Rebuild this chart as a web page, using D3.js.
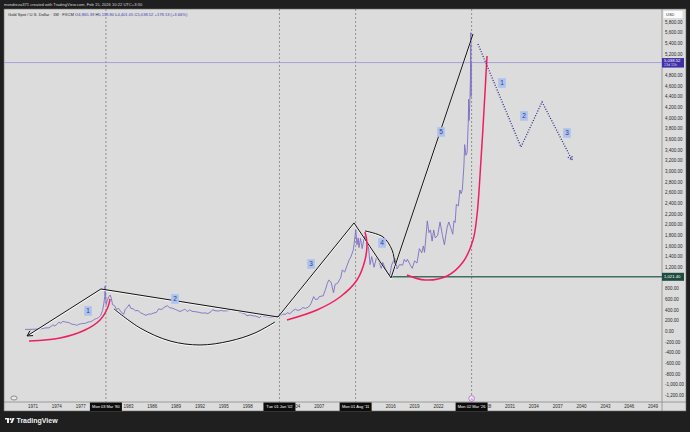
<!DOCTYPE html>
<html>
<head>
<meta charset="utf-8">
<script src="https://cdn.jsdelivr.net/npm/d3@7"></script>
<style>
  body { margin: 0; background: #1f1f1f; }
  svg { display: block; font-family: "Liberation Sans", Arial, sans-serif; }
</style>
</head>
<body>
<svg id="chart" width="690" height="432"></svg>
<script>
// gold monthly closes, decimal year / price (USD)
var goldYears = [1970.0,1970.5,1971.0,1971.5,1972.0,1972.5,1973.0,1973.25,1973.5,1973.75,1974.0,1974.25,1974.5,1974.75,1975.0,1975.25,1975.5,1975.75,1976.0,1976.25,1976.5,1976.75,1977.0,1977.25,1977.5,1977.75,1978.0,1978.25,1978.5,1978.75,1979.0,1979.25,1979.5,1979.75,1979.9,1980.02,1980.06,1980.2,1980.3,1980.5,1980.7,1980.85,1981.0,1981.25,1981.5,1981.75,1982.0,1982.4,1982.6,1982.8,1983.1,1983.3,1983.6,1983.9,1984.2,1984.5,1984.9,1985.2,1985.5,1985.9,1986.2,1986.5,1986.8,1987.2,1987.5,1987.9,1988.2,1988.5,1988.9,1989.2,1989.5,1989.9,1990.1,1990.4,1990.7,1991.0,1991.5,1991.9,1992.3,1992.7,1993.0,1993.4,1993.6,1993.9,1994.3,1994.7,1995.0,1995.5,1996.0,1996.3,1996.7,1997.0,1997.4,1997.7,1997.9,1998.3,1998.7,1999.0,1999.5,1999.75,2000.0,2000.4,2000.8,2001.2,2001.5,2001.8,2002.0,2002.4,2002.8,2003.0,2003.3,2003.7,2004.0,2004.3,2004.7,2004.9,2005.3,2005.7,2005.95,2006.3,2006.5,2006.8,2007.0,2007.5,2007.8,2008.0,2008.2,2008.5,2008.8,2009.0,2009.3,2009.7,2009.9,2010.2,2010.5,2010.8,2011.0,2011.3,2011.6,2011.75,2011.9,2012.0,2012.2,2012.4,2012.7,2012.95,2013.2,2013.4,2013.6,2013.9,2014.2,2014.5,2014.8,2015.0,2015.3,2015.6,2015.9,2016.1,2016.5,2016.8,2017.1,2017.5,2017.7,2017.95,2018.1,2018.5,2018.7,2019.0,2019.3,2019.6,2019.9,2020.1,2020.25,2020.4,2020.6,2020.8,2021.0,2021.2,2021.4,2021.6,2021.9,2022.2,2022.5,2022.75,2022.95,2023.1,2023.3,2023.6,2023.8,2023.95,2024.1,2024.25,2024.5,2024.7,2024.85,2025.0,2025.2,2025.3,2025.45,2025.6,2025.75,2025.8,2025.85,2025.95,2026.02,2026.07,2026.1,2026.13]
var goldClose = [35,36,38,41,46,62,65,90,120,100,130,170,150,185,178,167,165,142,130,128,110,130,140,147,145,162,175,180,200,225,240,255,295,390,512,650,850,500,560,640,680,620,500,480,410,430,380,315,410,440,500,430,420,385,390,350,320,300,320,325,345,350,420,410,450,480,440,435,410,390,370,400,415,370,400,375,365,355,340,345,330,370,405,385,380,390,380,385,405,395,380,355,340,325,290,305,290,287,255,300,285,275,265,260,265,280,280,320,320,350,330,385,415,390,410,445,430,460,515,650,600,600,650,665,790,890,960,920,720,880,900,1000,1150,1110,1230,1350,1400,1530,1900,1620,1750,1570,1740,1550,1780,1660,1580,1250,1400,1200,1380,1320,1180,1290,1180,1090,1060,1240,1370,1170,1250,1240,1350,1300,1350,1230,1180,1320,1280,1550,1470,1600,1480,1730,2070,1850,1900,1690,1900,1750,1800,2050,1800,1620,1820,1950,2050,1920,1820,2070,2040,2380,2350,2650,2580,2650,3100,3500,3300,3350,3900,4350,3950,4300,4700,5600,4400,5038.52]

// drawings, [year, price]
var waveLine = [[1970.25,-88],[1979.55,793],[2001.82,268],[2011.38,2031],[2016.03,1000],[2026.35,5574]]
var forecastLine = [[2026.97,5387],[2032.38,3456],[2035.03,4300],[2038.8,3212]]
var redArc1 = [[1970.5,-182],[1974.4,-126],[1977.54,24],[1979.43,212],[1980.43,456],[1980.69,606]]
var redArc2 = [[2002.95,212],[2006.72,399],[2009.62,643],[2011.75,962],[2012.76,1337],[2013.01,1656],[2012.76,1862]]
var redArc3 = [[2018.04,1056],[2020.31,962],[2023.08,1037],[2025.09,1299],[2026.35,1712],[2026.85,2181],[2027.35,3212],[2027.73,4149],[2028.11,5162]]
var blackArcU = [[1981.19,418],[1984.46,62],[1988.23,-182],[1992.01,-257],[1995.78,-182],[1998.92,-32],[2001.44,174]]
var blackArc4 = [[2012.76,1881],[2015.03,1768],[2016.16,1524],[2016.53,1281],[2016.66,1224]]
var waveLabels = ["1","2","3","4","5","1","2","3"]
var waveLabelPos = [[1977.92,381],[1988.86,606],[2005.97,1262],[2014.9,1656],[2022.32,3737],[2029.99,4656],[2032.76,4037],[2038.17,3718]]

var markerYears = [1980.17, 2002.0, 2011.58, 2026.17]
var markerText = ["Mon 03 Mar '80", "Tue 01 Jan '02", "Mon 01 Aug '11", "Mon 02 Mar '26"]
var yearTicks = d3.range(1971, 2050, 3)
var priceTicks = d3.range(-1200, 5801, 200)
var lastPrice = 5038.52
var supportPrice = 1021.40
var supportStart = 2016.03

var svg = d3.select("#chart")
var dims = { left: 4, right: 662, top: 9, bottom: 402, axisRight: 686, axisBottom: 411 }

var x = d3.scaleLinear().domain([1967.35, 2050.12]).range([dims.left, dims.right])
var y = d3.scaleLinear().domain([-1326, 6043]).range([dims.bottom, dims.top])

// panels
svg.append("rect").attr("x", dims.left).attr("y", dims.top)
   .attr("width", dims.axisRight - dims.left).attr("height", dims.axisBottom - dims.top)
   .attr("fill", "#dcdcdc")
svg.append("line").attr("x1", dims.right).attr("x2", dims.right).attr("y1", dims.top).attr("y2", dims.axisBottom)
   .attr("stroke", "#8a8a8a").attr("stroke-width", 0.8)
svg.append("line").attr("x1", dims.left).attr("x2", dims.axisRight).attr("y1", dims.bottom).attr("y2", dims.bottom)
   .attr("stroke", "#8a8a8a").attr("stroke-width", 0.8)
svg.append("rect").attr("x", dims.left).attr("y", dims.top)
   .attr("width", dims.axisRight - dims.left).attr("height", dims.axisBottom - dims.top)
   .attr("fill", "none").attr("stroke", "#6a6a6a").attr("stroke-width", 0.6)

var defs = svg.append("defs")
defs.append("clipPath").attr("id", "plotclip").append("rect")
   .attr("x", dims.left).attr("y", dims.top)
   .attr("width", dims.right - dims.left).attr("height", dims.bottom - dims.top)
var plot = svg.append("g").attr("clip-path", "url(#plotclip)")

// vertical markers
plot.selectAll(".vmark").data(markerYears).enter().append("line")
    .attr("x1", d => x(d)).attr("x2", d => x(d))
    .attr("y1", dims.top).attr("y2", dims.bottom)
    .attr("stroke", "#7d7d7d").attr("stroke-width", 0.8).attr("stroke-dasharray", "2,2")

// price lines
plot.append("line").attr("x1", dims.left).attr("x2", dims.right)
    .attr("y1", y(lastPrice)).attr("y2", y(lastPrice))
    .attr("stroke", "#9d92de").attr("stroke-width", 0.8)
plot.append("line").attr("x1", x(supportStart)).attr("x2", dims.right)
    .attr("y1", y(supportPrice)).attr("y2", y(supportPrice))
    .attr("stroke", "#3f6f60").attr("stroke-width", 1.6)

// gold series
var series = goldYears.map((t, i) => [t, goldClose[i]])
plot.append("path").datum(series)
    .attr("d", d3.line().x(d => x(d[0])).y(d => y(d[1])))
    .attr("fill", "none").attr("stroke", "#7a6fc2").attr("stroke-width", 0.9)

var straight = d3.line().x(d => x(d[0])).y(d => y(d[1]))
var curved = d3.line().x(d => x(d[0])).y(d => y(d[1])).curve(d3.curveCatmullRom)

// black drawings with a faint halo
;[[waveLine, straight], [blackArcU, curved], [blackArc4, curved]].forEach(function(p){
    plot.append("path").datum(p[0]).attr("d", p[1])
        .attr("fill", "none").attr("stroke", "#ffffff").attr("stroke-width", 1.2)
        .attr("transform", "translate(0,0.9)").attr("opacity", 0.8)
    plot.append("path").datum(p[0]).attr("d", p[1])
        .attr("fill", "none").attr("stroke", "#111").attr("stroke-width", 1)
})

function arrowHead(from, to, len){
    var x0 = x(from[0]), y0 = y(from[1]), x1 = x(to[0]), y1 = y(to[1])
    var a = Math.atan2(y1 - y0, x1 - x0)
    return [[x1 - len*Math.cos(a - 0.5), y1 - len*Math.sin(a - 0.5)], [x1, y1],
            [x1 - len*Math.cos(a + 0.5), y1 - len*Math.sin(a + 0.5)]]
}
plot.append("path").datum(arrowHead(waveLine[1], waveLine[0], 6))
    .attr("d", d3.line()).attr("fill", "none").attr("stroke", "#111").attr("stroke-width", 1)

// red arcs
;[redArc1, redArc2, redArc3].forEach(function(a){
    plot.append("path").datum(a).attr("d", curved)
        .attr("fill", "none").attr("stroke", "#ee1f5f").attr("stroke-width", 1.5)
})

// forecast
plot.append("path").datum(forecastLine).attr("d", straight)
    .attr("fill", "none").attr("stroke", "#2b2f8f").attr("stroke-width", 1.3).attr("stroke-dasharray", "1,1.6")
var n = forecastLine.length
plot.append("path").datum(arrowHead(forecastLine[n-2], forecastLine[n-1], 5))
    .attr("d", d3.line()).attr("fill", "none").attr("stroke", "#2b2f8f").attr("stroke-width", 1.3).attr("stroke-dasharray", "1,1.6")

// wave labels
var lbl = plot.selectAll(".wl").data(waveLabels).enter().append("g")
    .attr("transform", (d, i) => `translate(${x(waveLabelPos[i][0])},${y(waveLabelPos[i][1])})`)
lbl.append("rect").attr("x", -3.8).attr("y", -4.8).attr("width", 7.6).attr("height", 9.6).attr("fill", "#adc2ec")
lbl.append("text").attr("text-anchor", "middle").attr("dy", "0.35em")
   .attr("font-size", 6.5).attr("fill", "#2c3a96").text(d => d)

// price axis, ticks under the price boxes are hidden
var shownPrices = priceTicks.filter(d => Math.abs(y(d) - y(lastPrice)) > 5 && Math.abs(y(d) - y(supportPrice)) > 5)
svg.append("g").selectAll("text").data(shownPrices).enter().append("text")
   .attr("x", 665).attr("y", d => y(d)).attr("dy", "0.35em")
   .attr("font-size", 4.5).attr("fill", "#2a2a2a")
   .text(d => d3.format(",.2f")(d).replace("−", "-"))

svg.append("rect").attr("x", 663.5).attr("y", 11).attr("width", 19).attr("height", 7).attr("fill", "#fafafa")
svg.append("text").attr("x", 666).attr("y", 14.5).attr("dy", "0.35em").attr("font-size", 4).attr("fill", "#333").text("USD")

svg.append("rect").attr("x", 662).attr("y", y(lastPrice) - 4.5).attr("width", 22).attr("height", 9.5).attr("fill", "#3f2fa6")
svg.append("text").attr("x", 664).attr("y", y(lastPrice) - 2).attr("dy", "0.35em").attr("font-size", 4.2).attr("fill", "#fff")
   .text(d3.format(",.2f")(lastPrice))
svg.append("text").attr("x", 664).attr("y", y(lastPrice) + 2.5).attr("dy", "0.35em").attr("font-size", 3.6).attr("fill", "#d8d4ff")
   .text("13d 15h")

svg.append("rect").attr("x", 662).attr("y", y(supportPrice) - 4).attr("width", 22).attr("height", 8).attr("fill", "#1d4b3f")
svg.append("text").attr("x", 664).attr("y", y(supportPrice)).attr("dy", "0.35em").attr("font-size", 4.2).attr("fill", "#fff")
   .text(d3.format(",.2f")(supportPrice))

// time axis: year labels hidden behind the date boxes, partly covered ones clipped
var boxHalf = 16
var boxes = markerYears.map(d => [x(d) - boxHalf, x(d) + boxHalf])
var gaps = []
var last = dims.left
boxes.forEach(b => { gaps.push([last, b[0]]); last = b[1] })
gaps.push([last, dims.right])
var axisClip = defs.append("clipPath").attr("id", "axisclip")
gaps.forEach(g => axisClip.append("rect").attr("x", g[0]).attr("y", dims.bottom)
    .attr("width", g[1] - g[0]).attr("height", dims.axisBottom - dims.bottom))
var visibleTicks = yearTicks.filter(d => !markerYears.some(m => Math.abs(x(d) - x(m)) < boxHalf - 2))
svg.append("g").attr("clip-path", "url(#axisclip)").selectAll("text").data(visibleTicks).enter().append("text")
   .attr("x", d => x(d)).attr("y", 406.5).attr("dy", "0.35em").attr("text-anchor", "middle")
   .attr("font-size", 4.5).attr("fill", "#2a2a2a").text(d => d)

var mk = svg.append("g").selectAll("g").data(markerYears).enter().append("g")
mk.append("rect").attr("x", d => x(d) - boxHalf).attr("y", 402.5).attr("width", boxHalf*2).attr("height", 8.5).attr("fill", "#0c0c0c")
mk.append("text").attr("x", d => x(d)).attr("y", 406.7).attr("dy", "0.35em").attr("text-anchor", "middle")
  .attr("font-size", 4).attr("fill", "#fff").text((d, i) => markerText[i])

// small event marker and corner icon
svg.append("circle").attr("cx", x(markerYears[3])).attr("cy", 398.5).attr("r", 2.8)
   .attr("fill", "#f2e9f7").attr("stroke", "#b04fd0").attr("stroke-width", 0.7)
svg.append("text").attr("x", x(markerYears[3])).attr("y", 398.5).attr("dy", "0.35em").attr("text-anchor", "middle")
   .attr("font-size", 3.5).attr("fill", "#b04fd0").text("a")
svg.append("ellipse").attr("cx", 14).attr("cy", 398).attr("rx", 3.2).attr("ry", 2)
   .attr("fill", "#e8e8e8").attr("stroke", "#555").attr("stroke-width", 0.6)

// header
svg.append("text").attr("x", 4).attr("y", 4.5).attr("dy", "0.35em").attr("font-size", 4.1).attr("fill", "#d4d4d4")
   .text("mondreza371 created with TradingView.com, Feb 15, 2026 10:22 UTC+3:30")
var legend = svg.append("text").attr("x", 8).attr("y", 14.5).attr("dy", "0.35em").attr("font-size", 4.1).attr("fill", "#2a2a2a")
legend.append("tspan").text("Gold Spot / U.S. Dollar · 1M · FXCM  ")
var ohlc = [["O", "4,865.39"], ["H", "5,118.80"], ["L", "4,401.05"], ["C", "5,038.52"]]
ohlc.forEach(function(p){
    legend.append("tspan").text(p[0])
    legend.append("tspan").attr("fill", "#3c3cb4").text(p[1] + " ")
})
legend.append("tspan").attr("fill", "#3c3cb4").text("+178.13 (+3.66%)")

// footer logo
var logo = svg.append("g").attr("transform", "translate(5,418)")
logo.append("path").attr("d", "M0,0 H4 V5 H2 V1.6 H0 Z").attr("fill", "#f0f0f0")
logo.append("circle").attr("cx", 5.6).attr("cy", 1.2).attr("r", 1.1).attr("fill", "#f0f0f0")
logo.append("path").attr("d", "M7.5,0 H9.6 L7.4,5 H5.3 Z").attr("fill", "#f0f0f0")
svg.append("text").attr("x", 16.5).attr("y", 420.7).attr("dy", "0.35em").attr("font-size", 7)
   .attr("font-weight", "bold").attr("fill", "#f0f0f0").text("TradingView")
</script>
</body>
</html>
